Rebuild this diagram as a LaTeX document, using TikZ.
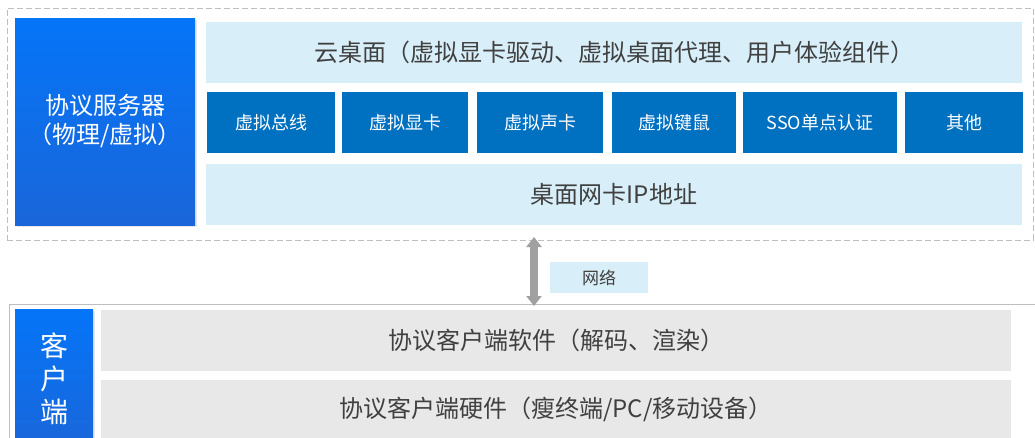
\documentclass[tikz,border=0pt]{standalone}
\usepackage{fontspec}
\setmainfont{Noto Sans CJK SC}
\usetikzlibrary{arrows.meta,shadows}
\definecolor{deskblue}{RGB}{216,239,249}
\definecolor{modblue}{RGB}{0,112,192}
\definecolor{srvtop}{RGB}{5,117,248}
\definecolor{srvbot}{RGB}{26,102,217}
\definecolor{rowgray}{RGB}{232,232,232}
\definecolor{txtgray}{RGB}{64,64,64}
\definecolor{framegray}{RGB}{190,190,190}
\definecolor{arrowgray}{RGB}{160,160,160}

\begin{document}
\begin{tikzpicture}[x=1pt,y=-1pt,
  box/.style={anchor=north west,inner sep=0pt,outer sep=0pt,align=center},
  frame/.style={box,line width=1pt,draw=framegray},
  mainbox/.style={box,top color=srvtop,bottom color=srvbot,text=white,
    drop shadow={shadow xshift=2pt,shadow yshift=-2pt,opacity=0.2}},
  layer/.style={box,fill=deskblue,text=txtgray,minimum width=816pt,minimum height=61pt,
    font=\fontsize{24}{28}\selectfont},
  modbox/.style={box,fill=modblue,text=white,minimum height=61pt,font=\fontsize{18}{20}\selectfont},
  clirow/.style={box,fill=rowgray,text=txtgray,minimum width=910pt,font=\fontsize{24}{28}\selectfont},
  netarrow/.style={line width=8pt,draw=arrowgray,
    {Triangle[width=15pt,length=10pt]}-{Triangle[width=15pt,length=10pt]}}]
\path[use as bounding box,clip] (0,0) rectangle (1035,437);
% server side
\node[frame,dash pattern=on 6pt off 3pt,minimum width=1026pt,minimum height=232pt] (srvframe) at (7,8) {};
\node[mainbox,minimum width=180pt,minimum height=207pt,font=\fontsize{24}{29}\selectfont] (srv) at (15,18) {协议服务器\\（物理/虚拟）};
\node[layer] (desk) at (206,22) {云桌面（虚拟显卡驱动、虚拟桌面代理、用户体验组件）};
\node[modbox,minimum width=128pt] (bus) at (207,92) {虚拟总线};
\node[modbox,minimum width=126pt] (gpu) at (342,92) {虚拟显卡};
\node[modbox,minimum width=126pt] (snd) at (477,92) {虚拟声卡};
\node[modbox,minimum width=124pt] (kbm) at (612,92) {虚拟键鼠};
\node[modbox,minimum width=154pt] (sso) at (743,92) {SSO单点认证};
\node[modbox,minimum width=118pt] (misc) at (905,92) {其他};
\node[layer] (nic) at (206,164) {桌面网卡IP地址};
% network
\node[box,fill=deskblue,text=txtgray,minimum width=98pt,minimum height=31pt,
  font=\fontsize{17}{20}\selectfont] (net) at (550,262) {网络};
\coordinate (netx) at (534,0);
% client side
\node[frame,minimum width=1040pt,minimum height=160pt] (cliframe) at (9,304) {};
\node[mainbox,minimum width=78pt,minimum height=140pt,font=\fontsize{28}{33}\selectfont] (cli) at (15,309) {客\\户\\端};
\node[clirow,minimum height=61pt] (sw) at (101,310) {协议客户端软件（解码、渲染）};
\node[clirow,minimum height=58pt] (hw) at (101,380) {协议客户端硬件（瘦终端/PC/移动设备）};
\draw[netarrow,shorten <=-3pt,shorten >=-2pt] (srvframe.south -| netx) -- (cliframe.north -| netx);
\end{tikzpicture}
\end{document}
